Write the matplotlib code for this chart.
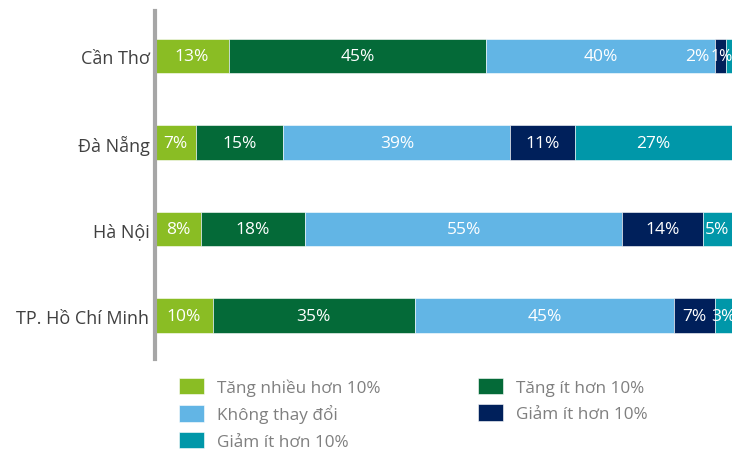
import numpy as np
import matplotlib.pyplot as plt

plt.rcParams['font.family'] = ['Open Sans', 'DejaVu Sans']

# Tỉ lệ theo thành phố (%), theo thứ tự nhóm
cities = ['Cần Thơ', 'Đà Nẵng', 'Hà Nội', 'TP. Hồ Chí Minh']
tang_nhieu = [13, 7, 8, 10]
tang_it = [45, 15, 18, 35]
khong_doi = [40, 39, 55, 45]
giam_it = [2, 11, 14, 7]
giam_nhieu = [1, 27, 5, 3]

series = [tang_nhieu, tang_it, khong_doi, giam_it, giam_nhieu]
names = ['Tăng nhiều hơn 10%', 'Tăng ít hơn 10%', 'Không thay đổi',
         'Giảm ít hơn 10%', 'Giảm ít hơn 10%']
colors = ['#8ABD24', '#046A38', '#62B5E5', '#00205B', '#0097A9']

fig = plt.figure(figsize=(7.44, 4.52), dpi=100)
ax = fig.add_axes([0.2083, 0.2035, 0.7755, 0.77])

# mỗi thanh được chuẩn hoá về 100%
totals = np.sum(np.array(series, dtype=float), axis=0)
y = np.arange(len(cities))
left = np.zeros(len(cities))
bars = []
for vals, name, c in zip(series, names, colors):
    vals = np.array(vals, dtype=float)
    w = vals / totals * 100
    b = ax.barh(y, w, left=left, height=0.4, color=c, label=name,
                edgecolor='white', linewidth=0.4)
    bars.append(b)
    for i, v in enumerate(vals):
        lbl = f'{int(v)}%'
        if v >= 3:
            ax.text(left[i] + w[i] / 2, y[i], lbl, ha='center', va='center',
                    color='white', fontsize=12.5)
        elif v == 2:
            # nhãn nhỏ đặt lệch sang trái đoạn
            ax.text(left[i] - 0.9, y[i], lbl, ha='right', va='center',
                    color='white', fontsize=12.5)
        else:
            # đoạn rất hẹp: nhãn canh theo mép phải thanh
            ax.text(left[i] + w[i] + 0.1, y[i], lbl, ha='right', va='center',
                    color='white', fontsize=11.5)
    left += w

ax.set_xlim(0, 100)
ax.set_ylim(3.5, -0.52)
ax.set_yticks(y)
ax.set_yticklabels(cities, fontsize=13, color='#404040')
ax.tick_params(axis='y', length=0, pad=4)
ax.set_xticks([])
for s in ['top', 'right', 'bottom']:
    ax.spines[s].set_visible(False)
ax.spines['left'].set_color('#A6A6A6')
ax.spines['left'].set_linewidth(3)

# chú thích hai cột
order = [0, 2, 4, 1, 3]
leg = fig.legend([bars[k] for k in order], [names[k] for k in order],
                 loc='upper left', bbox_to_anchor=(0.24, 0.162), ncol=2,
                 frameon=False, fontsize=12.3, handlelength=1.5, handleheight=1.1,
                 handletextpad=0.75, columnspacing=5.7, labelspacing=0.5,
                 borderaxespad=0, borderpad=0)
for t in leg.get_texts():
    t.set_color('#7F7F7F')

fig.savefig('out.png', dpi=100)
